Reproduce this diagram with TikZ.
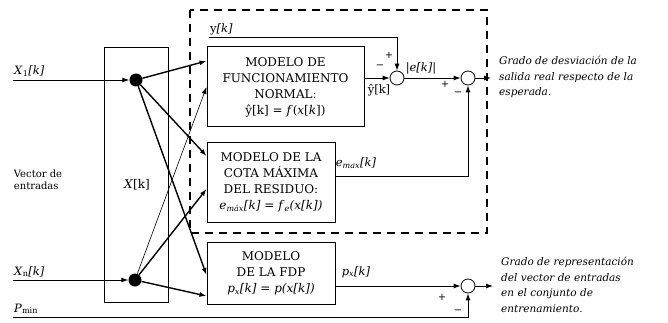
\documentclass[tikz,border=0pt]{standalone}
\usepackage{fontspec}
\setmainfont{DejaVu Serif}
\usetikzlibrary{arrows.meta, positioning, calc}
\tikzset{
  % Block diagram styles
  model/.style={rectangle, draw=black, line width=1pt, align=center, inner sep=0pt, font=\fontsize{12}{16}\selectfont},
  vecbox/.style={rectangle, draw=black, line width=1pt, minimum width=64pt, minimum height=254pt, inner sep=0pt},
  dot/.style={circle, fill=black, minimum size=13pt, inner sep=0pt},
  sum/.style={circle, draw=black, line width=0.8pt, minimum size=14pt, inner sep=0pt},
  sig/.style={font=\fontsize{11.5}{13}\selectfont, inner sep=1pt},
  sign/.style={font=\fontsize{10}{12}\selectfont, inner sep=0pt},
  outtext/.style={align=left, anchor=west, inner xsep=8pt, inner ysep=0pt, font=\fontsize{10.5}{15.5}\selectfont\itshape},
  frame/.style={draw=black, line width=2.4pt, dash pattern=on 8pt off 6pt},
  arrow/.style={-{Latex[length=7pt, width=5pt]}, line width=0.9pt},
  feed/.style={-{Latex[length=7pt, width=5pt]}, line width=1.4pt},
}

\begin{document}
\begin{tikzpicture}[x=1pt, y=-1pt, node distance=15pt]
    \useasboundingbox (0,0) rectangle (668,323);

    % Dashed frame
    \draw[frame] (190,10) rectangle (487,233);

    % Input vector
    \node[vecbox] (vec) at (136,175) {};
    \node[sig, font=\fontsize{12}{14}\selectfont] (veclbl) at (137,185) {\textit{X}[k]};
    \node[dot] (d1) at (136,80) {};
    \node[dot] (dn) at (135,280) {};

    % Input lines
    \coordinate (in1) at (13,80);
    \coordinate (inn) at (13,280);
    \coordinate (inp) at (13,317);
    \coordinate (yin) at (209,37);

    % Models
    \node[model, minimum width=157pt, minimum height=80pt] (normal) at (285.5,87)
      {MODELO DE\\FUNCIONAMIENTO\\NORMAL:\\ŷ[k] = \textit{f}(\textit{x}[\textit{k}])};
    \node[model, minimum width=128pt, minimum height=79pt, below=15pt of normal.south west, anchor=north west] (cota)
      {MODELO DE LA\\COTA MÁXIMA\\DEL RESIDUO:\\\textit{e}\textsubscript{\textit{máx}}\textit{[k]} = \textit{f}\textsubscript{\textit{e}}\textit{(x[k])}};
    \node[model, minimum width=128pt, minimum height=62pt, below=19pt of cota.south west, anchor=north west] (fdp)
      {MODELO\\DE LA FDP\\\textit{p}\textsubscript{\textit{x}}\textit{[k]} = \textit{p(x[k])}};

    % Sums
    \node[sum] (s1) at (397,78) {};
    \node[sum] (s2) at (468,78) {};
    \node[sum] (s3) at (468,286) {};

    % Outputs
    \node[outtext] (out1) at (491,77) {Grado de desviación de la\\salida real respecto de la\\esperada.};
    \node[outtext] (out2) at (493,285) {Grado de representación\\del vector de entradas\\en el conjunto de\\entrenamiento.};

    % Labels
    \node[sig, above right=2pt and 0pt of in1] (x1lbl) {\textit{X}\textsubscript{1}\textit{[k]}};
    \node[sig, above right=2pt and 0pt of inn] (xnlbl) {\textit{X}\textsubscript{n}\textit{[k]}};
    \node[sig, above right=2pt and 0pt of inp] (plbl) {\textit{P}\textsubscript{min}};
    \node[sig, align=left, font=\fontsize{10}{12}\selectfont] (veclegend) at (38,180) {Vector de\\entradas};
    \node[sig, above right=1pt and 0pt of yin] (ylbl) {y\textit{[k]}};
    \node[sig] (yhat) at (379,90) {ŷ[k]};
    \node[sig] (elbl) at (421,68) {|\textit{e[k]}|};
    \node[sig] (emaxlbl) at (356,163) {\textit{e}\textsubscript{\textit{max}}\textit{[k]}};
    \node[sig] (pxlbl) at (356,272) {\textit{p}\textsubscript{\textit{x}}\textit{[k]}};
    \node[sign] at (380,67) {−};
    \node[sign] at (389,55) {+};
    \node[sign] at (445,84) {+};
    \node[sign] at (458,94) {−};
    \node[sign] at (442,297) {+};
    \node[sign] at (458,312) {−};

    % Connectors
    \draw[arrow] (in1) -- (d1);
    \draw[arrow] (inn) -- (dn);
    \draw[arrow] (inp) -| (s3.south);
    \draw[feed] (d1) -- ([yshift=26pt]normal.west);
    \draw[feed] (d1) -- ([yshift=26.5pt]cota.west);
    \draw[feed] (d1) -- ([yshift=-2pt]fdp.west);
    \draw[arrow, line width=0.6pt] (dn) -- (normal.west);
    \draw[feed] (dn) -- ([yshift=-6.5pt]cota.west);
    \draw[feed] (dn) -- ([yshift=-23pt]fdp.west);
    \draw[arrow] (yin) -| (s1.north);
    \draw[arrow] (normal.east |- s1) -- (s1);
    \draw[arrow] (s1) -- (s2);
    \draw[arrow] ([yshift=6.5pt]cota.east) -| (s2.south);
    \draw[arrow] (fdp.east |- s3) -- (s3);
    \draw[arrow] (s2) -- (s2 -| out1.west);
    \draw[arrow] (s3) -- (s3 -| out2.west);
\end{tikzpicture}
\end{document}
